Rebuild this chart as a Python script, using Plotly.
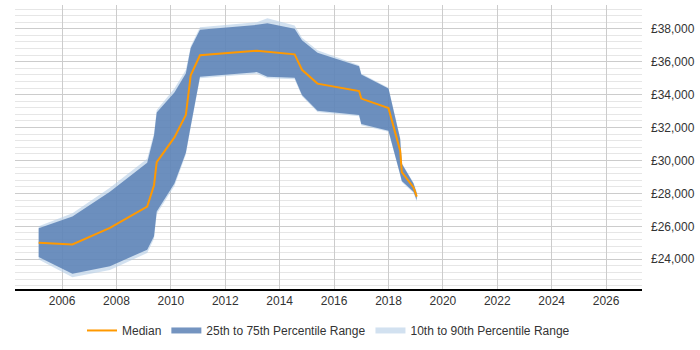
import plotly.graph_objects as go

# Data
years = [2005.14, 2006.38, 2007.76, 2009.13, 2009.38, 2009.48, 2010.13, 2010.55, 2010.73, 2011.07,
         2013.16, 2013.55, 2014.55, 2014.82, 2015.39, 2016.92, 2017.0, 2018.0, 2018.43, 2018.49,
         2018.92, 2019.04]
median = [25000, 24900, 25900, 27200, 28500, 29900, 31400, 32760, 35170, 36390,
          36670, 36600, 36450, 35510, 34670, 34220, 33760, 33180, 30600, 29300,
          28360, 27800]
p75 = [25890, 26600, 28100, 29870, 31500, 32920, 34130, 35290, 36840, 37940,
       38240, 38340, 38000, 37300, 36540, 35730, 35230, 34370, 31310, 29800,
       28600, 28000]
p25 = [24130, 23120, 23580, 24580, 25390, 26900, 28600, 30470, 32100, 35090,
       35370, 35090, 35030, 33980, 33020, 32760, 32220, 31810, 29150, 28750,
       28100, 27600]
p90 = [26000, 26800, 28350, 30110, 31650, 33070, 34380, 35490, 36940, 38090,
       38400, 38640, 38200, 37450, 36690, 35780, 35280, 34420, 31360, 29850,
       28650, 28100]
p10 = [23990, 22900, 23340, 24380, 25240, 26750, 28450, 30370, 32000, 34990,
       35270, 34990, 34930, 33900, 32940, 32680, 32140, 31750, 29100, 28690,
       28020, 27500]
x_ticks = [2006, 2008, 2010, 2012, 2014, 2016, 2018, 2020, 2022, 2024, 2026]
y_ticks = [24000, 26000, 28000, 30000, 32000, 34000, 36000, 38000]

FONT = "Liberation Sans, Arial, sans-serif"

fig = go.Figure()
fig.add_trace(go.Scatter(
    x=years + years[::-1], y=p90 + p10[::-1],
    fill="toself", mode="none", fillcolor="rgba(180,205,230,0.6)",
    name="10th to 90th Percentile Range", legendrank=3, hoverinfo="skip"))
fig.add_trace(go.Scatter(
    x=years + years[::-1], y=p75 + p25[::-1],
    fill="toself", mode="none", fillcolor="rgba(85,125,178,0.82)",
    name="25th to 75th Percentile Range", legendrank=2, hoverinfo="skip"))
fig.add_trace(go.Scatter(
    x=years, y=median, mode="lines",
    line=dict(color="#FF9900", width=2),
    name="Median", legendrank=1))

fig.update_layout(
    width=700, height=350,
    margin=dict(l=15, r=58, t=5, b=58),
    paper_bgcolor="white", plot_bgcolor="white",
    font=dict(family=FONT, size=12, color="#333"),
    showlegend=True,
    legend=dict(orientation="h", x=0.5, xanchor="center", y=-0.146, yanchor="middle",
                font=dict(family=FONT, size=12, color="#333"), traceorder="normal"),
    xaxis=dict(range=[2004.27, 2027.32], tickvals=x_ticks, ticktext=[str(t) for t in x_ticks],
               showgrid=True, gridcolor="#cccccc", gridwidth=1,
               showline=True, linecolor="#000", linewidth=1.5,
               ticks="", zeroline=False, fixedrange=True),
    yaxis=dict(range=[22193, 39446], side="right", tickvals=y_ticks,
               ticktext=["£{:,}".format(v) for v in y_ticks],
               showgrid=True, gridcolor="#cccccc", gridwidth=1,
               minor=dict(dtick=400, tick0=0, showgrid=True, gridcolor="#e6e6e6", gridwidth=1),
               showline=False, ticks="", zeroline=False, ticklabelstandoff=8, fixedrange=True),
)

fig.write_html("out.html")
